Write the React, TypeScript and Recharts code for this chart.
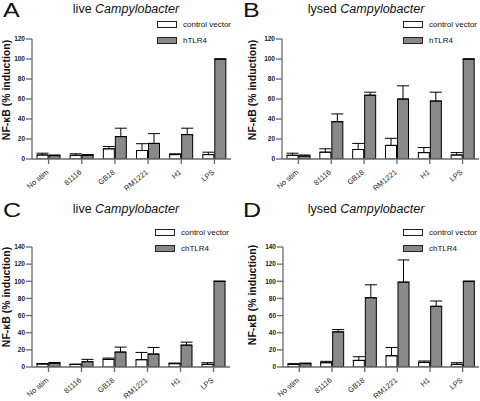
import React from 'react';
import { BarChart, Bar, XAxis, YAxis, ErrorBar } from 'recharts';

const categories = ['No stim', '81116', 'GB18', 'RM1221', 'H1', 'LPS'];

// A - live, human TLR4
const liveHumanControl = [4, 3.7, 10.2, 8.5, 4.4, 4.4];
const liveHumanControlErr = [1.8, 1.5, 2.3, 6.8, 0.8, 2.4];
const liveHumanTlr4 = [3.4, 3.7, 22.4, 15.6, 24.4, 100];
const liveHumanTlr4Err = [0.6, 0.7, 8.4, 9.8, 6.4, 0];

// B - lysed, human TLR4
const lysedHumanControl = [3.7, 6.8, 9.5, 13.6, 6.4, 4];
const lysedHumanControlErr = [2.1, 3.4, 6.1, 7.1, 5.1, 2.4];
const lysedHumanTlr4 = [3, 37.3, 63.8, 60, 58, 100];
const lysedHumanTlr4Err = [1, 7.8, 3, 13.2, 8.8, 0];

// C - live, chicken TLR4
const liveChickenControl = [3.5, 3.1, 8.9, 8.5, 3.9, 3.1];
const liveChickenControlErr = [0.6, 0, 1.5, 8.5, 0.7, 1.9];
const liveChickenTlr4 = [4.5, 6.2, 17.4, 15.1, 25.5, 100];
const liveChickenTlr4Err = [0.8, 2.7, 5.8, 7.7, 3.5, 0];

// D - lysed, chicken TLR4
const lysedChickenControl = [3.1, 5, 7.7, 13.1, 5.4, 3.1];
const lysedChickenControlErr = [0.8, 1.6, 4.3, 9.7, 1.6, 1.9];
const lysedChickenTlr4 = [3.9, 41, 80.8, 99, 70.8, 100];
const lysedChickenTlr4Err = [0.7, 2.7, 15.1, 25.9, 6.2, 0];

const ticks120 = [0, 20, 40, 60, 80, 100, 120];
const ticks140 = [0, 20, 40, 60, 80, 100, 120, 140];

const FONT = '"Liberation Sans", Arial, sans-serif';
const GREY = '#898989';
const AXIS = '#6a6a6a';

const buildRows = (ctrl: number[], ctrlErr: number[], tlr: number[], tlrErr: number[]) =>
  categories.map((name, i) => ({
    name,
    control: ctrl[i],
    controlErr: [0, ctrlErr[i]],
    tlr: tlr[i],
    tlrErr: [0, tlrErr[i]],
  }));

// rotated category labels, ending just under the tick
const XTick = (props: any) => {
  const { x, y, payload } = props;
  return (
    <g transform={`translate(${x + 0.5},${y + 9})`}>
      <text textAnchor="end" transform="rotate(-40)" fontSize={7.5} fill="#222" fontFamily={FONT}>
        {payload.value}
      </text>
    </g>
  );
};

interface PanelProps {
  letter: string;
  state: string;
  receptor: string;
  rows: any[];
  yMax: number;
  ticks: number[];
  left: number;
  top: number;
  height: number;
  plotLeft: number;
  plotTop: number;
  plotRight: number;
  plotBottom: number;
  legendX: number;
  legendY: number;
  labelX: number;
  labelY: number;
}

const Panel: React.FC<PanelProps> = (p) => (
  <div style={{ position: 'absolute', left: p.left, top: p.top, width: 240, height: p.height }}>
    <BarChart
      width={240}
      height={p.height}
      data={p.rows}
      barSize={11}
      barGap={1}
      margin={{ top: p.plotTop, right: 240 - p.plotRight, left: 0, bottom: 0 }}
    >
      <YAxis
        width={p.plotLeft}
        domain={[0, p.yMax]}
        ticks={p.ticks}
        interval={0}
        allowDataOverflow
        stroke={AXIS}
        strokeWidth={1.3}
        tickSize={6}
        tickMargin={1}
        tick={{ fontSize: 6.5, fontWeight: 'bold', fill: '#222', fontFamily: FONT }}
      />
      <XAxis
        dataKey="name"
        height={p.height - p.plotBottom}
        interval={0}
        stroke={AXIS}
        strokeWidth={1.3}
        tickSize={5}
        tickMargin={0}
        tick={<XTick />}
      />
      <Bar dataKey="control" fill="#ffffff" stroke="#000" strokeWidth={1} isAnimationActive={false}>
        <ErrorBar dataKey="controlErr" width={6} stroke="#000" strokeWidth={1} direction="y" />
      </Bar>
      <Bar dataKey="tlr" fill={GREY} stroke="#000" strokeWidth={1} isAnimationActive={false}>
        <ErrorBar dataKey="tlrErr" width={6} stroke="#000" strokeWidth={1} direction="y" />
      </Bar>
    </BarChart>

    {/* panel letter + title */}
    <div
      style={{
        position: 'absolute',
        left: 3,
        top: 0,
        fontSize: 20,
        lineHeight: '20px',
        fontFamily: FONT,
        color: '#111',
        transform: 'scaleX(1.25)',
        transformOrigin: 'left top',
      }}
    >
      {p.letter}
    </div>
    <div style={{ position: 'absolute', left: 0, width: 252, top: 2, textAlign: 'center', fontSize: 12.5, lineHeight: '14px', fontFamily: FONT, color: '#111' }}>
      {p.state} <i>Campylobacter</i>
    </div>

    {/* legend */}
    {[{ label: 'control vector', fill: '#fff' }, { label: p.receptor, fill: GREY }].map((it, i) => (
      <div key={it.label} style={{ position: 'absolute', left: p.legendX, top: p.legendY + i * 16, display: 'flex', alignItems: 'center', height: 8 }}>
        <span style={{ width: 18, height: 5, border: '1px solid #222', background: it.fill, display: 'inline-block' }} />
        <span style={{ marginLeft: 6, fontSize: 8, fontFamily: FONT, color: '#111' }}>{it.label}</span>
      </div>
    ))}

    {/* y axis title */}
    <div
      style={{
        position: 'absolute',
        left: p.labelX,
        top: p.labelY,
        transform: 'translate(-50%, -50%) rotate(-90deg)',
        whiteSpace: 'nowrap',
        fontSize: 10.5,
        fontWeight: 'bold',
        fontFamily: FONT,
        color: '#111',
      }}
    >
      NF-κB (% induction)
    </div>
  </div>
);

export default function App() {
  return (
    <div style={{ position: 'absolute', left: 0, top: 0, width: 480, height: 401, background: '#fff', overflow: 'hidden' }}>
      <Panel
        letter="A" state="live" receptor="hTLR4"
        rows={buildRows(liveHumanControl, liveHumanControlErr, liveHumanTlr4, liveHumanTlr4Err)}
        yMax={120} ticks={ticks120}
        left={0} top={0} height={200}
        plotLeft={32} plotTop={39} plotRight={231} plotBottom={159}
        legendX={157} legendY={20}
        labelX={6} labelY={89.5}
      />
      <Panel
        letter="B" state="lysed" receptor="hTLR4"
        rows={buildRows(lysedHumanControl, lysedHumanControlErr, lysedHumanTlr4, lysedHumanTlr4Err)}
        yMax={120} ticks={ticks120}
        left={240} top={0} height={200}
        plotLeft={42} plotTop={39} plotRight={239} plotBottom={159}
        legendX={163} legendY={20}
        labelX={12} labelY={89.5}
      />
      <Panel
        letter="C" state="live" receptor="chTLR4"
        rows={buildRows(liveChickenControl, liveChickenControlErr, liveChickenTlr4, liveChickenTlr4Err)}
        yMax={140} ticks={ticks140}
        left={0} top={200} height={201}
        plotLeft={32} plotTop={47} plotRight={230} plotBottom={167}
        legendX={155} legendY={28}
        labelX={6} labelY={97}
      />
      <Panel
        letter="D" state="lysed" receptor="chTLR4"
        rows={buildRows(lysedChickenControl, lysedChickenControlErr, lysedChickenTlr4, lysedChickenTlr4Err)}
        yMax={140} ticks={ticks140}
        left={240} top={200} height={201}
        plotLeft={43} plotTop={47} plotRight={239} plotBottom={167}
        legendX={163} legendY={28}
        labelX={12} labelY={95}
      />
    </div>
  );
}
